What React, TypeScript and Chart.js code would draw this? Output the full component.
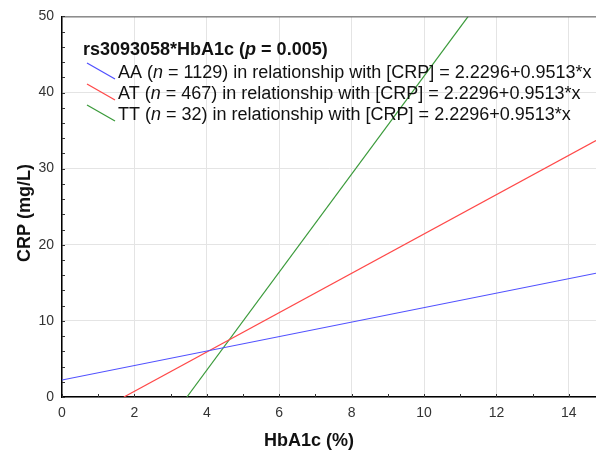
import React, { useEffect, useRef } from "react";
import { Chart, registerables } from "chart.js";

Chart.register(...registerables);

const xLimits = [0, 14.75];
const yLimits = [0, 50];
const xTickValues = [0, 2, 4, 6, 8, 10, 12, 14];
const yTickStep = 10;

const aaX = [0, 14.75];
const aaY = [2.23, 16.26];
const atX = [1.71, 14.75];
const atY = [0, 33.7];
const ttX = [3.45, 11.22];
const ttY = [0, 50];

const legendTitleParts = ["rs3093058*HbA1c (", "p", " = 0.005)"];
const seriesNames = ["AA", "AT", "TT"];
const seriesN = ["1129", "467", "32"];
const equation = " in relationship with [CRP] = 2.2296+0.9513*x";
const seriesColors = ["#5050ff", "#ff4848", "#3a9a3a"];

const xTitle = "HbA1c (%)";
const yTitle = "CRP (mg/L)";

const FONT = "Arial, 'Liberation Sans', sans-serif";

function pts(xs: number[], ys: number[]) {
  return xs.map((x, i) => ({ x, y: ys[i] }));
}

const overlayPlugin = {
  id: "overlay",
  afterDraw(chart: any) {
    const ctx = chart.ctx as CanvasRenderingContext2D;
    const a = chart.chartArea;
    const xs = chart.scales.x;
    const ys = chart.scales.y;
    ctx.save();
    // top border
    ctx.strokeStyle = "#555";
    ctx.lineWidth = 1;
    ctx.beginPath();
    ctx.moveTo(a.left, a.top + 0.5);
    ctx.lineTo(a.right, a.top + 0.5);
    ctx.stroke();
    // inward ticks
    ctx.strokeStyle = "#333";
    for (let v = 0; v <= xLimits[1]; v += 1) {
      const px = Math.round(xs.getPixelForValue(v)) + 0.5;
      ctx.beginPath();
      ctx.moveTo(px, a.bottom);
      ctx.lineTo(px, a.bottom - 3);
      ctx.stroke();
    }
    for (let v = 0; v <= yLimits[1]; v += 2) {
      const py = Math.round(ys.getPixelForValue(v)) + 0.5;
      ctx.beginPath();
      ctx.moveTo(a.left, py);
      ctx.lineTo(a.left + 3, py);
      ctx.stroke();
    }
    // legend
    ctx.fillStyle = "#111";
    ctx.textBaseline = "alphabetic";
    ctx.textAlign = "left";
    let x = 83;
    const ty = 55;
    ctx.font = "bold 18px " + FONT;
    ctx.fillText(legendTitleParts[0], x, ty);
    x += ctx.measureText(legendTitleParts[0]).width;
    ctx.font = "italic bold 18px " + FONT;
    ctx.fillText(legendTitleParts[1], x, ty);
    x += ctx.measureText(legendTitleParts[1]).width;
    ctx.font = "bold 18px " + FONT;
    ctx.fillText(legendTitleParts[2], x, ty);

    const rowTop = [63, 84, 105];
    for (let i = 0; i < 3; i++) {
      const t = rowTop[i];
      ctx.strokeStyle = seriesColors[i];
      ctx.lineWidth = 1.2;
      ctx.beginPath();
      ctx.moveTo(87, t);
      ctx.lineTo(115, t + 16);
      ctx.stroke();
      const by = t + 14.5;
      let tx = 118;
      ctx.fillStyle = "#111";
      ctx.font = "18px " + FONT;
      const p1 = seriesNames[i] + " (";
      ctx.fillText(p1, tx, by);
      tx += ctx.measureText(p1).width;
      ctx.font = "italic 18px " + FONT;
      ctx.fillText("n", tx, by);
      tx += ctx.measureText("n").width;
      ctx.font = "18px " + FONT;
      const p2 = " = " + seriesN[i] + ")" + equation;
      ctx.fillText(p2, tx, by);
    }
    // axis titles
    ctx.fillStyle = "#111";
    ctx.font = "bold 18px " + FONT;
    ctx.textAlign = "center";
    ctx.fillText(xTitle, 309, 446);
    ctx.save();
    ctx.translate(30, 213);
    ctx.rotate(-Math.PI / 2);
    ctx.fillText(yTitle, 0, 0);
    ctx.restore();
    ctx.restore();
  },
};

export default function App() {
  const ref = useRef<HTMLCanvasElement>(null);
  useEffect(() => {
    if (!ref.current) return;
    const chart = new Chart(ref.current, {
      type: "line",
      data: {
        datasets: [
          { label: seriesNames[0], data: pts(aaX, aaY), borderColor: seriesColors[0] },
          { label: seriesNames[1], data: pts(atX, atY), borderColor: seriesColors[1] },
          { label: seriesNames[2], data: pts(ttX, ttY), borderColor: seriesColors[2] },
        ].map((d) => ({ ...d, borderWidth: 1.2, pointRadius: 0, fill: false, tension: 0 })),
      },
      options: {
        animation: false,
        responsive: false,
        maintainAspectRatio: false,
        layout: { padding: { top: 15, right: 0, left: 0, bottom: 0 } },
        plugins: { legend: { display: false }, tooltip: { enabled: false } },
        scales: {
          x: {
            type: "linear",
            min: xLimits[0],
            max: xLimits[1],
            afterBuildTicks: (s: any) => {
              s.ticks = xTickValues.map((v) => ({ value: v }));
            },
            ticks: {
              autoSkip: false,
              color: "#333",
              font: { family: FONT, size: 14 },
              padding: 8,
              maxRotation: 0,
            },
            grid: { color: "#e4e4e4", drawTicks: false },
            border: { display: true, color: "#000", width: 1.5 },
            afterFit: (s: any) => {
              s.height = 55;
            },
          },
          y: {
            type: "linear",
            min: yLimits[0],
            max: yLimits[1],
            ticks: {
              stepSize: yTickStep,
              color: "#333",
              font: { family: FONT, size: 14 },
              padding: 8,
            },
            grid: { color: "#e4e4e4", drawTicks: false },
            border: { display: true, color: "#000", width: 1.5 },
            afterFit: (s: any) => {
              s.width = 62;
            },
          },
        },
      },
      plugins: [overlayPlugin],
    } as any);
    return () => chart.destroy();
  }, []);
  return (
    <div style={{ position: "fixed", left: 0, top: 0, width: 596, height: 452, background: "#fff" }}>
      <canvas ref={ref} width={596} height={452} />
    </div>
  );
}
